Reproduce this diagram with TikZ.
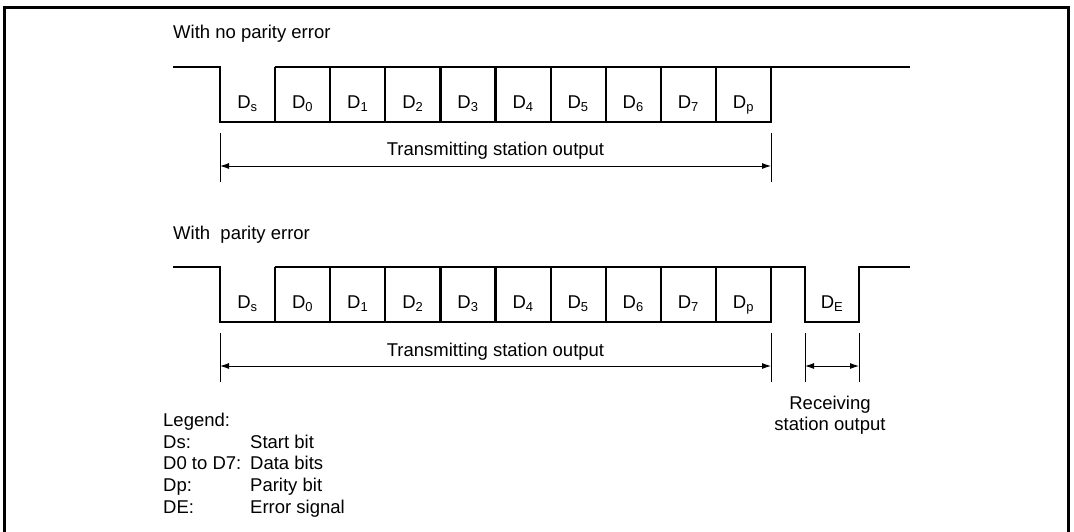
\documentclass[tikz,border=0pt]{standalone}
\usepackage{fontspec}
\setmainfont{Liberation Sans}
\usetikzlibrary{arrows.meta}
\begin{document}
\begin{tikzpicture}[x=1pt,y=-1pt,
		every node/.style={font=\fontsize{18.5}{21.7}\selectfont,inner sep=0pt},
		wave/.style={line width=2.2pt},
		dim/.style={line width=0.9pt},
		dimarrow/.style={line width=0.9pt,{Latex[length=9pt,width=6pt]}-{Latex[length=9pt,width=6pt]}},
		bitlabel/.style={anchor=base}]
	\useasboundingbox (0,0) rectangle (1074,532);
	% frame, open at the bottom
	\draw[line width=3pt] (4.5,532) -- (4.5,7.5) -- (1068,7.5) -- (1068,532);
	
	% with no parity error
	\node[anchor=base west] (title1) at (173,39) {With no parity error};
	\draw[wave] (173,67) -- (220,67) -- (220,122) -- (771,122) -- (771,67) -- (910,67);
	\draw[wave] (275.1,67) -- (771,67);
	\foreach \k in {1,...,9}
		\draw[wave] (220+55.1*\k,67) -- (220+55.1*\k,122);
	\foreach \sub [count=\i from 0] in {s,0,1,2,3,4,5,6,7,p}
		\node[bitlabel] (a\i) at (247.55+55.1*\i,108.5) {D\textsubscript{\sub}};
	
	\coordinate (al) at (220,166);
	\coordinate (ar) at (771,166);
	\draw[dim] (220,133) -- (220,182);
	\draw[dim] (771,133) -- (771,182);
	\draw[dimarrow] (al) -- (ar);
	\node[anchor=base] (tx1) at (495.5,156) {Transmitting station output};
	
	% with parity error
	\node[anchor=base west] (title2) at (173,239) {With \ parity error};
	\draw[wave] (173,267) -- (220,267) -- (220,322) -- (771,322) -- (771,267) -- (805,267)
		-- (805,322) -- (859,322) -- (859,267) -- (910,267);
	\draw[wave] (275.1,267) -- (771,267);
	\foreach \k in {1,...,9}
		\draw[wave] (220+55.1*\k,267) -- (220+55.1*\k,322);
	\foreach \sub [count=\i from 0] in {s,0,1,2,3,4,5,6,7,p}
		\node[bitlabel] (b\i) at (247.55+55.1*\i,308.5) {D\textsubscript{\sub}};
	\node[bitlabel] (de) at (832,308.5) {D\textsubscript{E}};
	
	\coordinate (bl) at (220,366);
	\coordinate (br) at (771,366);
	\coordinate (el) at (805,366);
	\coordinate (er) at (859,366);
	\foreach \x in {220,771,805,859}
		\draw[dim] (\x,333) -- (\x,382);
	\draw[dimarrow] (bl) -- (br);
	\draw[dimarrow] (el) -- (er);
	\node[anchor=base] (tx2) at (495.5,356) {Transmitting station output};
	\node[anchor=base] (rx1) at (830,409) {Receiving};
	\node[anchor=base] (rx2) at (830,430) {station output};
	
	% legend
	\node[anchor=base west] (leg) at (163,426) {Legend:};
	\node[anchor=base west] (l1) at (163,448) {Ds:};
	\node[anchor=base west] (l2) at (163,469.5) {D0 to D7:};
	\node[anchor=base west] (l3) at (163,491) {Dp:};
	\node[anchor=base west] (l4) at (163,513) {DE:};
	\node[anchor=base west] (m1) at (250,448) {Start bit};
	\node[anchor=base west] (m2) at (250,469.5) {Data bits};
	\node[anchor=base west] (m3) at (250,491) {Parity bit};
	\node[anchor=base west] (m4) at (250,513) {Error signal};
\end{tikzpicture}
\end{document}
